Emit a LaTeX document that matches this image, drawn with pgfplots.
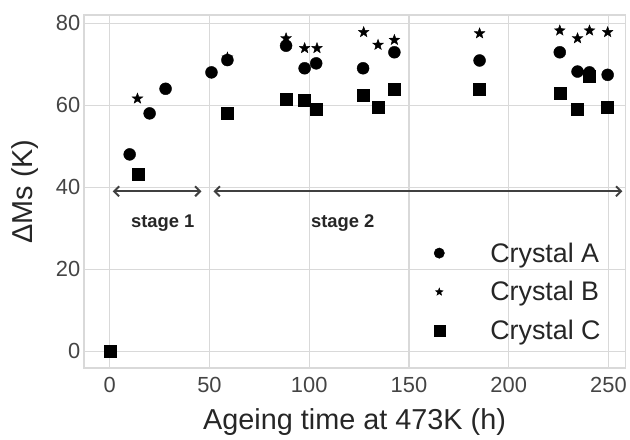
\documentclass[border=0pt]{standalone}
\usepackage{fontspec}
\setmainfont{Liberation Sans}
\usepackage{pgfplots}
\pgfplotsset{compat=1.18}
\usetikzlibrary{arrows.meta,plotmarks}
\definecolor{gridgray}{HTML}{D9D9D9}
\definecolor{ticktext}{HTML}{444444}
\definecolor{labeltext}{HTML}{262626}
\definecolor{arrowgray}{HTML}{404040}
\pgfdeclareplotmark{fstar}{%
  \pgfpathmoveto{\pgfpointpolar{90}{\pgfplotmarksize}}%
  \pgfpathlineto{\pgfpointpolar{126}{0.42\pgfplotmarksize}}%
  \pgfpathlineto{\pgfpointpolar{162}{\pgfplotmarksize}}%
  \pgfpathlineto{\pgfpointpolar{198}{0.42\pgfplotmarksize}}%
  \pgfpathlineto{\pgfpointpolar{234}{\pgfplotmarksize}}%
  \pgfpathlineto{\pgfpointpolar{270}{0.42\pgfplotmarksize}}%
  \pgfpathlineto{\pgfpointpolar{306}{\pgfplotmarksize}}%
  \pgfpathlineto{\pgfpointpolar{342}{0.42\pgfplotmarksize}}%
  \pgfpathlineto{\pgfpointpolar{18}{\pgfplotmarksize}}%
  \pgfpathlineto{\pgfpointpolar{54}{0.42\pgfplotmarksize}}%
  \pgfpathclose
  \pgfusepathqfillstroke}
\pgfplotsset{myleg/.style={legend image code/.code={\path (0bp,-4bp) (70bp,4bp);\draw[##1,mark size=#1] plot coordinates {(21bp,0bp)};}}}
\begin{document}
\begin{tikzpicture}
\begin{axis}[
  scale only axis, width=543bp, height=354bp,
  xmin=-13, xmax=258.5, ymin=-4.1, ymax=82,
  xtick={0,50,...,250}, ytick={0,20,...,80},
  grid=major, major grid style={gridgray, line width=1.2bp},
  axis line style={gridgray, line width=1.5bp},
  tick style={draw=none},
  /pgf/number format/assume math mode=true,
  ticklabel style={font=\fontsize{22}{22}\selectfont, text=ticktext},
  xticklabel shift=6bp,
  xlabel={Ageing time at 473K (h)}, ylabel={ΔMs (K)},
  xlabel shift=9bp, ylabel shift=11bp,
  label style={font=\fontsize{29}{29}\selectfont, text=labeltext},
  legend style={draw=none, fill=none, at={(axis cs:153,27.5)}, anchor=north west,
    font=\fontsize{27}{27}\selectfont, text=labeltext, row sep=14bp},
  legend cell align=left,
]
\addplot[only marks, mark=*, mark size=6bp, black, myleg=5.2bp] coordinates {
(10,48) (20,58) (28,64) (51,68) (59,71) (88.4,74.5) (97.7,69) (103.5,70.2)
(127,69) (142.7,72.9) (185.4,70.9) (225.6,72.9) (234.5,68.2) (240.5,68) (249.6,67.4)};
\addlegendentry{Crystal A}
\addplot[only marks, mark=fstar, mark size=5.6bp, black, fill=black, myleg=4bp] coordinates {
(13.9,61.6) (59,71.6) (88.4,76.3) (97.7,73.9) (103.9,73.9) (127.3,77.8) (134.5,74.7)
(142.7,75.9) (185.4,77.5) (225.6,78.2) (234.5,76.3) (240.5,78.2) (249.6,77.8)};
\addlegendentry{Crystal B}
\addplot[only marks, mark=square*, mark size=6bp, black, myleg=5.5bp] coordinates {
(0,0) (14.2,43.2) (59.1,58.1) (88.4,61.5) (97.7,61.1) (103.5,59) (127.3,62.5)
(134.5,59.4) (142.7,63.9) (185.4,63.9) (225.6,62.9) (234.5,59.1) (240.5,67) (249.6,59.4)};
\addlegendentry{Crystal C}
\draw[arrowgray, line width=2bp, {Straight Barb[length=5bp,width=10bp]}-{Straight Barb[length=5bp,width=10bp]}]
  (axis cs:1.5,39) -- (axis cs:46,39);
\draw[arrowgray, line width=2bp, {Straight Barb[length=5bp,width=10bp]}-{Straight Barb[length=5bp,width=10bp]}]
  (axis cs:52,39) -- (axis cs:257,39);
\node[font=\bfseries\fontsize{18.5}{18.5}\selectfont, text=labeltext] at (axis cs:26.6,31.2) {stage 1};
\node[font=\bfseries\fontsize{18.5}{18.5}\selectfont, text=labeltext] at (axis cs:116.8,31.3) {stage 2};
\end{axis}
\path (current axis.south west) ++(-84bp,-65bp) (current axis.north east) ++(3bp,15bp);
\end{tikzpicture}
\end{document}
